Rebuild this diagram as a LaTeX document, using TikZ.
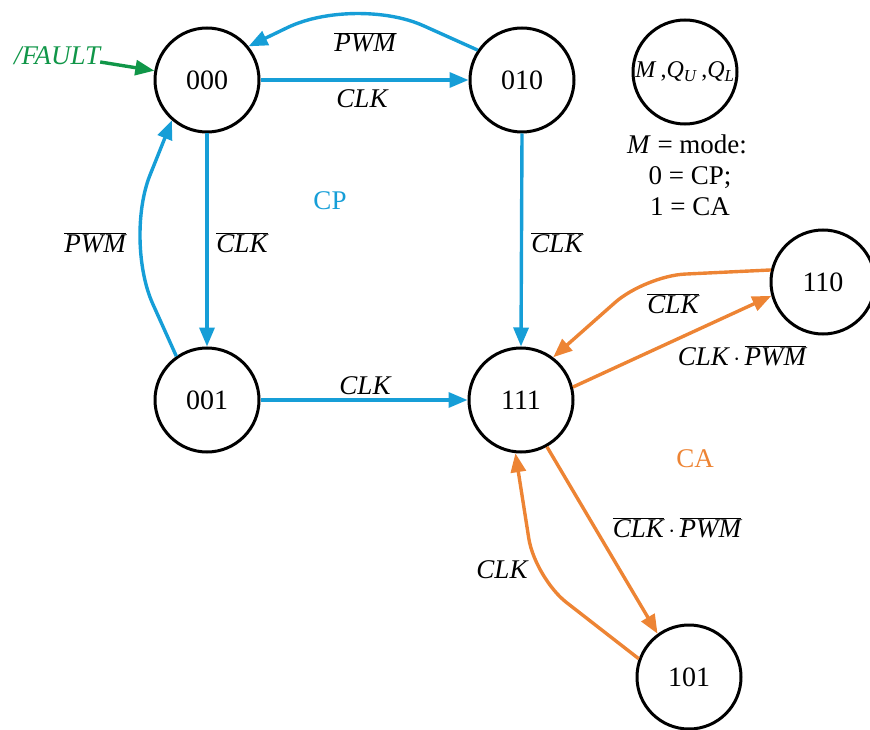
\documentclass[tikz,border=0pt]{standalone}
\usepackage{fontspec}
\setmainfont{Liberation Serif}
\usetikzlibrary{arrows.meta}
\definecolor{cpblue}{RGB}{22,158,215}
\definecolor{caorange}{RGB}{237,132,52}
\definecolor{fgreen}{RGB}{16,150,72}
\newcommand{\olbar}[1]{$\overline{\hbox{\itshape #1}}$}
\begin{document}
\begin{tikzpicture}[x=1pt,y=-1pt,
  state/.style={circle,draw=black,line width=3pt,minimum size=104pt,inner sep=0pt,font=\fontsize{28}{30}\selectfont},
  lbl/.style={font=\fontsize{27}{30}\selectfont\itshape,inner sep=0pt,anchor=base},
  txt/.style={font=\fontsize{27}{30}\selectfont,inner sep=0pt,anchor=base},
  tip/.style={-{Triangle[length=19pt,width=15pt]}},
  bluearrow/.style={draw=cpblue,line width=3.4pt,tip,fill=none},
  orangearrow/.style={draw=caorange,line width=3.4pt,tip,fill=none},
  greenarrow/.style={draw=fgreen,line width=3.4pt,tip,fill=none}
]
\useasboundingbox (0,0) rectangle (870,730);

% states
\node[state] (s000) at (207,80) {000};
\node[state] (s010) at (522,80) {010};
\node[state] (s001) at (207,400) {001};
\node[state] (s111) at (521,400) {111};
\node[state] (s110) at (823,282) {110};
\node[state] (s101) at (689,677) {101};
\node[state,font=\fontsize{24}{26}\selectfont] (legend) at (685,72)
  {\textit{M}\,,\textit{Q}\textsubscript{\textit{U}}\,,\textit{Q}\textsubscript{\textit{L}}};

% legend text
\node[txt] (lg1) at (687,154) {\textit{M} = mode:};
\node[txt] (lg2) at (690,185) {0 = CP;};
\node[txt] (lg3) at (690,215) {1 = CA};

% region labels
\node[txt,text=cpblue] (cp) at (330,210) {CP};
\node[txt,text=caorange] (ca) at (695,467) {CA};

% fault
\node[lbl,text=fgreen] (fault) at (57,65) {/FAULT};
\draw[greenarrow] (fault.east |- 0,62) -- (s000.170);

% CP transitions
\draw[bluearrow] (s000.east) -- (s010.west);
\node[lbl] (l1) at (362,108) {CLK};

\draw[bluearrow,rounded corners=75pt] (s010.146) -- (355,-5) -- (s000.39);
\node[lbl] (l2) at (365,52) {\olbar{PWM}};

\draw[bluearrow] (s000.south) -- (s001.north);
\node[lbl] (l3) at (242,252) {\olbar{CLK}};

\draw[bluearrow,rounded corners=70pt] (s001.125) -- (124,240) -- (s000.229);
\node[lbl] (l4) at (95,252) {\olbar{PWM}};

\draw[bluearrow] (s010.south) -- (s111.north);
\node[lbl] (l5) at (557,252) {\olbar{CLK}};

\draw[bluearrow] (s001.east) -- (s111.west);
\node[lbl] (l6) at (365,394) {CLK};

% CA transitions
\draw[orangearrow,rounded corners=40pt] (s110.167) -- (645,276) -- (s111.53);
\node[lbl] (l7) at (673,313) {\olbar{CLK}};

\draw[orangearrow] (s111.14) -- (s110.195);
\node[lbl] (l8) at (742,365) {CLK\,$\cdot$\,\olbar{PWM}};

\draw[orangearrow] (s111.299) -- (s101.126);
\node[lbl] (l9) at (677,537) {\olbar{CLK}\,$\cdot$\,\olbar{PWM}};

\draw[orangearrow,rounded corners=40pt] (s101.160) -- (535,578) -- (s111.264);
\node[lbl] (l10) at (502,578) {CLK};
\end{tikzpicture}
\end{document}
